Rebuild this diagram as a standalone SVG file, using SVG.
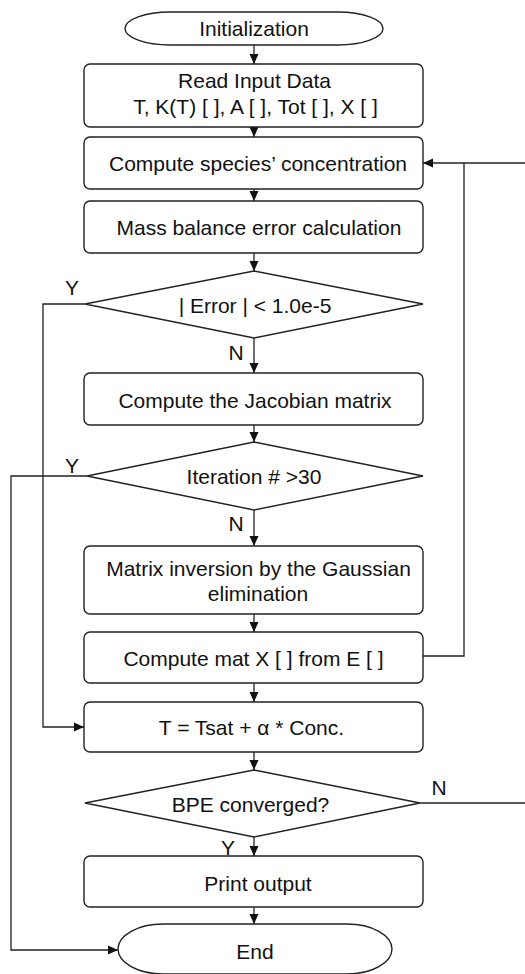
<svg xmlns="http://www.w3.org/2000/svg" width="525" height="974" viewBox="0 0 525 974">
<defs>
<marker id="arr" markerUnits="userSpaceOnUse" markerWidth="10" markerHeight="10" viewBox="0 0 10 10" refX="10" refY="5" orient="auto">
<path d="M0,0.5 L10,5 L0,9.5 Z" fill="#111"/>
</marker>
<style>
.box{fill:#fff;stroke:#222;stroke-width:1.4}
.t{font-family:"Liberation Sans",Arial,sans-serif;font-size:21px;fill:#111;text-anchor:middle}
.c{fill:none;stroke:#222;stroke-width:1.3}
</style>
</defs>
<rect width="525" height="974" fill="#fff"/>
<g id="connectors">
<line class="c" x1="254" y1="45" x2="254" y2="64" marker-end="url(#arr)"/>
<line class="c" x1="254" y1="127" x2="254" y2="137" marker-end="url(#arr)"/>
<line class="c" x1="254" y1="189" x2="254" y2="201" marker-end="url(#arr)"/>
<line class="c" x1="254" y1="253" x2="254" y2="271" marker-end="url(#arr)"/>
<line class="c" x1="254" y1="338" x2="254" y2="373" marker-end="url(#arr)"/>
<line class="c" x1="254" y1="425" x2="254" y2="442" marker-end="url(#arr)"/>
<line class="c" x1="254" y1="510" x2="254" y2="546" marker-end="url(#arr)"/>
<line class="c" x1="254" y1="614" x2="254" y2="632" marker-end="url(#arr)"/>
<line class="c" x1="254" y1="683" x2="254" y2="702" marker-end="url(#arr)"/>
<line class="c" x1="254" y1="752" x2="254" y2="770" marker-end="url(#arr)"/>
<line class="c" x1="254" y1="837" x2="254" y2="856" marker-end="url(#arr)"/>
<line class="c" x1="254" y1="907" x2="254" y2="924" marker-end="url(#arr)"/>
<polyline class="c" points="85,304 43,304 43,727 84,727" marker-end="url(#arr)"/>
<polyline class="c" points="87,476 11,476 11,950 118,950" marker-end="url(#arr)"/>
<polyline class="c" points="423,656 464,656 464,163"/>
<line class="c" x1="526" y1="163" x2="423" y2="163" marker-end="url(#arr)"/>
<line class="c" x1="420" y1="803" x2="526" y2="803"/>
<text class="t" x="72" y="294.5">Y</text>
<text class="t" x="236" y="359.5">N</text>
<text class="t" x="72" y="472.5">Y</text>
<text class="t" x="236" y="530.5">N</text>
<text class="t" x="439" y="794.5">N</text>
<text class="t" x="228" y="854.5">Y</text>
</g>
<g id="init">
<rect class="box" x="125" y="12" width="258" height="33" rx="45" ry="16.5"/>
<text class="t" x="254" y="36">Initialization</text>
</g>
<g id="read">
<rect class="box" x="84" y="64" width="339" height="63" rx="6"/>
<text class="t" x="254.5" y="87.5">Read Input Data</text>
<text class="t" x="255.5" y="113.5">T, K(T) [ ], A [ ], Tot [ ], X [ ]</text>
</g>
<g id="species">
<rect class="box" x="84" y="137" width="339" height="52" rx="6"/>
<text class="t" x="258" y="170.5">Compute species’ concentration</text>
</g>
<g id="mass">
<rect class="box" x="84" y="201" width="339" height="52" rx="6"/>
<text class="t" x="259" y="234.5">Mass balance error calculation</text>
</g>
<g id="d1">
<polygon class="box" points="254,271 423,304 254,338 85,304"/>
<text class="t" x="255" y="312.5">| Error | &lt; 1.0e-5</text>
</g>
<g id="jac">
<rect class="box" x="84" y="373" width="339" height="52" rx="6"/>
<text class="t" x="255" y="407.5">Compute the Jacobian matrix</text>
</g>
<g id="d2">
<polygon class="box" points="254,442 423,476 254,510 87,476"/>
<text class="t" x="254" y="483.5">Iteration # &gt;30</text>
</g>
<g id="mat">
<rect class="box" x="84" y="546" width="339" height="68" rx="6"/>
<text class="t" x="258.5" y="575.5">Matrix inversion by the Gaussian</text>
<text class="t" x="258" y="600.5">elimination</text>
</g>
<g id="matx">
<rect class="box" x="84" y="632" width="339" height="51" rx="6"/>
<text class="t" x="253.5" y="665.5">Compute mat X [ ] from E [ ]</text>
</g>
<g id="tsat">
<rect class="box" x="84" y="702" width="339" height="50" rx="6"/>
<text class="t" x="251.5" y="734.5">T = Tsat + α * Conc.</text>
</g>
<g id="d3">
<polygon class="box" points="254,770 420,803 254,837 85,803"/>
<text class="t" x="250.5" y="812">BPE converged?</text>
</g>
<g id="print">
<rect class="box" x="84" y="856" width="339" height="51" rx="6"/>
<text class="t" x="258" y="890.5">Print output</text>
</g>
<g id="end">
<rect class="box" x="118" y="924" width="274" height="50" rx="45" ry="25"/>
<text class="t" x="255" y="958.5">End</text>
</g>
</svg>
